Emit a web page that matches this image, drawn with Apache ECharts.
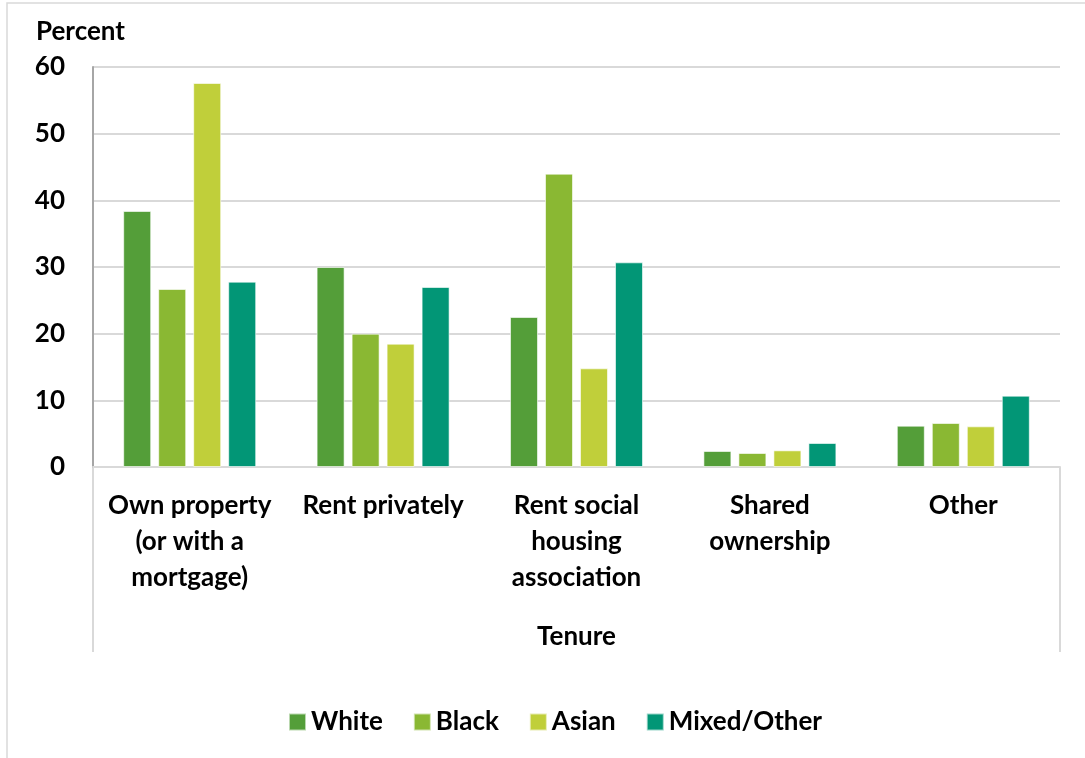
<!DOCTYPE html>
<html>
<head>
<meta charset="utf-8">
<script src="https://cdn.jsdelivr.net/npm/echarts@6/dist/echarts.min.js"></script>
<style>
html,body{margin:0;padding:0;background:#fff;}
#c{width:1085px;height:758px;}
</style>
</head>
<body>
<div id="c"></div>
<script>
const categories = ["Own property\n(or with a\nmortgage)", "Rent privately", "Rent social\nhousing\nassociation", "Shared\nownership", "Other"];
const seriesNames = ["White", "Black", "Asian", "Mixed/Other"];
const white = [38.4, 30.0, 22.5, 2.4, 6.2];
const black = [26.7, 20.0, 44.0, 2.1, 6.6];
const asian = [57.6, 18.5, 14.8, 2.5, 6.1];
const mixed = [27.8, 27.0, 30.7, 3.6, 10.7];
const colors = ["#549E39", "#8AB833", "#C0CF3A", "#029676"];
const yTicks = { min: 0, max: 60, interval: 10 };

const FONT = "Lato";
const chart = echarts.init(document.getElementById('c'), null, { renderer: 'canvas' });
const seriesData = [white, black, asian, mixed];
const option = {
  animation: false,
  backgroundColor: '#fff',
  textStyle: { fontFamily: FONT },
  color: colors,
  grid: { left: 93, right: 25, top: 67, bottom: 291, containLabel: false },
  legend: {
    data: seriesNames,
    left: 283, top: 704,
    itemWidth: 17, itemHeight: 17, itemGap: 30,
    icon: 'rect',
    textStyle: { fontFamily: FONT, fontSize: 26, fontWeight: 'bold', color: '#000' }
  },
  xAxis: {
    type: 'category',
    data: categories,
    name: 'Tenure',
    nameLocation: 'middle',
    nameGap: 157,
    nameTextStyle: { fontFamily: FONT, fontSize: 26, fontWeight: 'bold', color: '#000' },
    axisLine: { show: true, lineStyle: { color: '#d9d9d9', width: 2 } },
    axisTick: { show: false },
    axisLabel: { interval: 0, margin: 21, fontFamily: FONT, fontSize: 26, fontWeight: 'bold', color: '#000', lineHeight: 36, verticalAlign: 'top' },
    splitLine: { show: false }
  },
  yAxis: {
    type: 'value',
    min: yTicks.min, max: yTicks.max, interval: yTicks.interval,
    name: 'Percent',
    nameLocation: 'end',
    nameGap: 22,
    nameTextStyle: { fontFamily: FONT, fontSize: 26, fontWeight: 'bold', color: '#000', align: 'left', padding: [0, 0, 0, -57] },
    axisLine: { show: true, lineStyle: { color: '#a6a6a6', width: 2 } },
    axisTick: { show: false },
    axisLabel: { margin: 28, fontFamily: FONT, fontSize: 26, fontWeight: 'bold', color: '#000' },
    splitLine: { show: true, lineStyle: { color: '#d9d9d9', width: 2 } }
  },
  series: seriesNames.map((n, i) => ({
    name: n,
    type: 'bar',
    data: seriesData[i],
    barWidth: 28,
    barGap: '25%',
    itemStyle: { color: colors[i], borderColor: 'rgba(255,255,255,0.6)', borderWidth: 1 }
  }))
};
chart.setOption(option);

// decorative frame lines: outer chart border and category-axis box sides
const step = chart.convertToPixel({ xAxisIndex: 0 }, 1) - chart.convertToPixel({ xAxisIndex: 0 }, 0);
const x0 = chart.convertToPixel({ xAxisIndex: 0 }, 0) - step / 2;
const x1 = x0 + step * categories.length;
const yZero = chart.convertToPixel({ yAxisIndex: 0 }, 0);
chart.setOption({
  graphic: [
    { type: 'rect', shape: { x: 7, y: 3, width: 1100, height: 800 }, style: { fill: 'none', stroke: '#d9d9d9', lineWidth: 1.5 }, silent: true },
    { type: 'line', shape: { x1: x0, y1: yZero, x2: x0, y2: yZero + 185 }, style: { stroke: '#d9d9d9', lineWidth: 2 }, silent: true },
    { type: 'line', shape: { x1: x1, y1: yZero, x2: x1, y2: yZero + 185 }, style: { stroke: '#d9d9d9', lineWidth: 2 }, silent: true }
  ]
});
</script>
</body>
</html>
